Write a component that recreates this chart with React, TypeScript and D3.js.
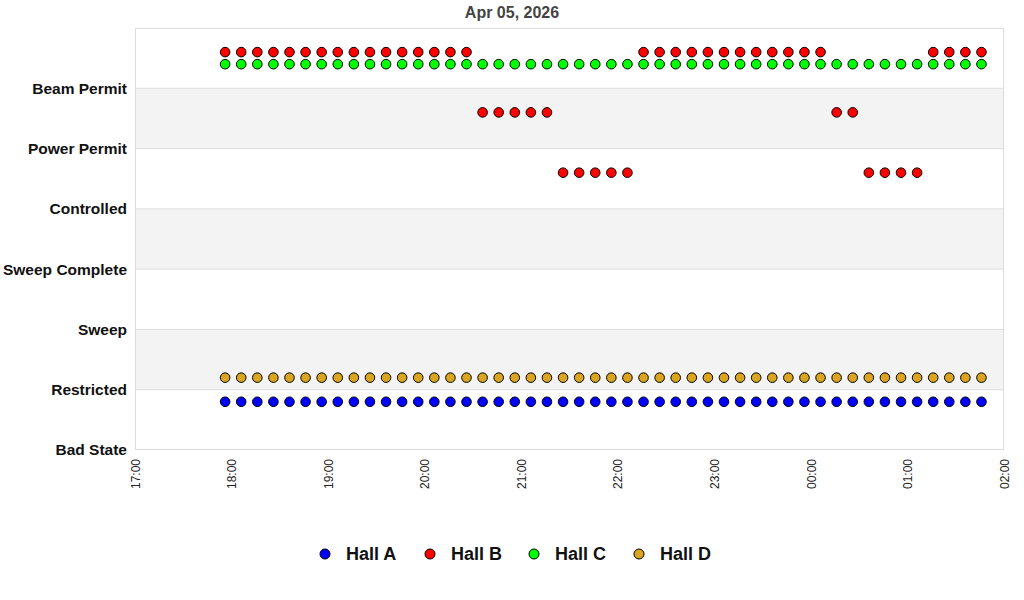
import React from "react";
import * as d3 from "d3";

const states = ["Bad State", "Restricted", "Sweep", "Sweep Complete", "Controlled", "Power Permit", "Beam Permit"];

const times = [
  "17:56", "18:06", "18:16", "18:26", "18:36", "18:46", "18:56", "19:06",
  "19:16", "19:26", "19:36", "19:46", "19:56", "20:06", "20:16", "20:26",
  "20:36", "20:46", "20:56", "21:06", "21:16", "21:26", "21:36", "21:46",
  "21:56", "22:06", "22:16", "22:26", "22:36", "22:46", "22:56", "23:06",
  "23:16", "23:26", "23:36", "23:46", "23:56", "00:06", "00:16", "00:26",
  "00:36", "00:46", "00:56", "01:06", "01:16", "01:26", "01:36", "01:46",
];

// state index per sample (0 = Bad State ... 6 = Beam Permit)
const hallA = [
  0, 0, 0, 0, 0, 0, 0, 0, 0, 0, 0, 0, 0, 0, 0, 0,
  0, 0, 0, 0, 0, 0, 0, 0, 0, 0, 0, 0, 0, 0, 0, 0,
  0, 0, 0, 0, 0, 0, 0, 0, 0, 0, 0, 0, 0, 0, 0, 0,
];
const hallB = [
  6, 6, 6, 6, 6, 6, 6, 6, 6, 6, 6, 6, 6, 6, 6, 6,
  5, 5, 5, 5, 5, 4, 4, 4, 4, 4, 6, 6, 6, 6, 6, 6,
  6, 6, 6, 6, 6, 6, 5, 5, 4, 4, 4, 4, 6, 6, 6, 6,
];
const hallC = [
  6, 6, 6, 6, 6, 6, 6, 6, 6, 6, 6, 6, 6, 6, 6, 6,
  6, 6, 6, 6, 6, 6, 6, 6, 6, 6, 6, 6, 6, 6, 6, 6,
  6, 6, 6, 6, 6, 6, 6, 6, 6, 6, 6, 6, 6, 6, 6, 6,
];
const hallD = [
  1, 1, 1, 1, 1, 1, 1, 1, 1, 1, 1, 1, 1, 1, 1, 1,
  1, 1, 1, 1, 1, 1, 1, 1, 1, 1, 1, 1, 1, 1, 1, 1,
  1, 1, 1, 1, 1, 1, 1, 1, 1, 1, 1, 1, 1, 1, 1, 1,
];

const hallNames = ["Hall A", "Hall B", "Hall C", "Hall D"];
const hallColors = ["#0000ff", "#ff0000", "#00ff00", "#daa520"];
const hallOffsets = [0.8, 0.6, 0.4, 0.2];
const hallValues = [hallA, hallB, hallC, hallD];

const tickLabels = ["17:00", "18:00", "19:00", "20:00", "21:00", "22:00", "23:00", "00:00", "01:00", "02:00"];

function toDate(t: string): Date {
  const [h, m] = t.split(":").map(Number);
  const day = h < 12 ? 6 : 5;
  return new Date(2026, 3, day, h, m);
}

export default function App() {
  const W = 1024, H = 600;
  const left = 135, right = 1004, top = 28, bottom = 450;
  const x = d3.scaleTime().domain([toDate("17:00"), toDate("02:00")]).range([left, right]);
  const y = d3.scaleLinear().domain([0, 7]).range([bottom, top]);
  const font = "'Liberation Sans', Arial, sans-serif";
  const bands = d3.range(7);
  const legendX = [325, 430, 534, 639];

  return (
    <svg width={W} height={H} style={{ position: "absolute", left: 0, top: 0 }} fontFamily={font}>
      <rect x={0} y={0} width={W} height={H} fill="#fff" />
      {bands.map((b) => (
        <rect key={b} x={left} y={y(b + 1)} width={right - left} height={y(b) - y(b + 1)} fill={b % 2 === 1 ? "#f3f3f3" : "#ffffff"} />
      ))}
      {bands.slice(1).map((b) => (
        <line key={b} x1={left} x2={right} y1={y(b)} y2={y(b)} stroke="#dddddd" strokeWidth={1} />
      ))}
      <rect x={left + 0.5} y={top + 0.5} width={right - left - 1} height={bottom - top - 1} fill="none" stroke="#dddddd" strokeWidth={1} />
      <text x={512} y={18} textAnchor="middle" fontSize={16} fontWeight="bold" fill="#444">Apr 05, 2026</text>
      {states.map((s, i) => (
        <text key={s} x={127} y={y(i)} dy="0.35em" textAnchor="end" fontSize={15.5} fontWeight="bold" fill="#111">{s}</text>
      ))}
      {tickLabels.map((t) => {
        const tx = x(toDate(t));
        return (
          <text key={t} transform={`translate(${tx + 0.5},459) rotate(-90)`} textAnchor="end" dy="0.35em" fontSize={12} fill="#222">{t}</text>
        );
      })}
      {hallValues.map((vals, hi) =>
        vals.map((v, i) => (
          <circle key={`${hi}-${i}`} cx={x(toDate(times[i]))} cy={y(v + hallOffsets[hi])} r={4.8} fill={hallColors[hi]} stroke="#000" strokeWidth={1} />
        ))
      )}
      {hallNames.map((n, i) => (
        <g key={n}>
          <circle cx={legendX[i]} cy={554} r={5} fill={hallColors[i]} stroke="#000" strokeWidth={1} />
          <text x={legendX[i] + 21} y={554} dy="0.35em" fontSize={18} fontWeight="bold" fill="#111">{n}</text>
        </g>
      ))}
    </svg>
  );
}
